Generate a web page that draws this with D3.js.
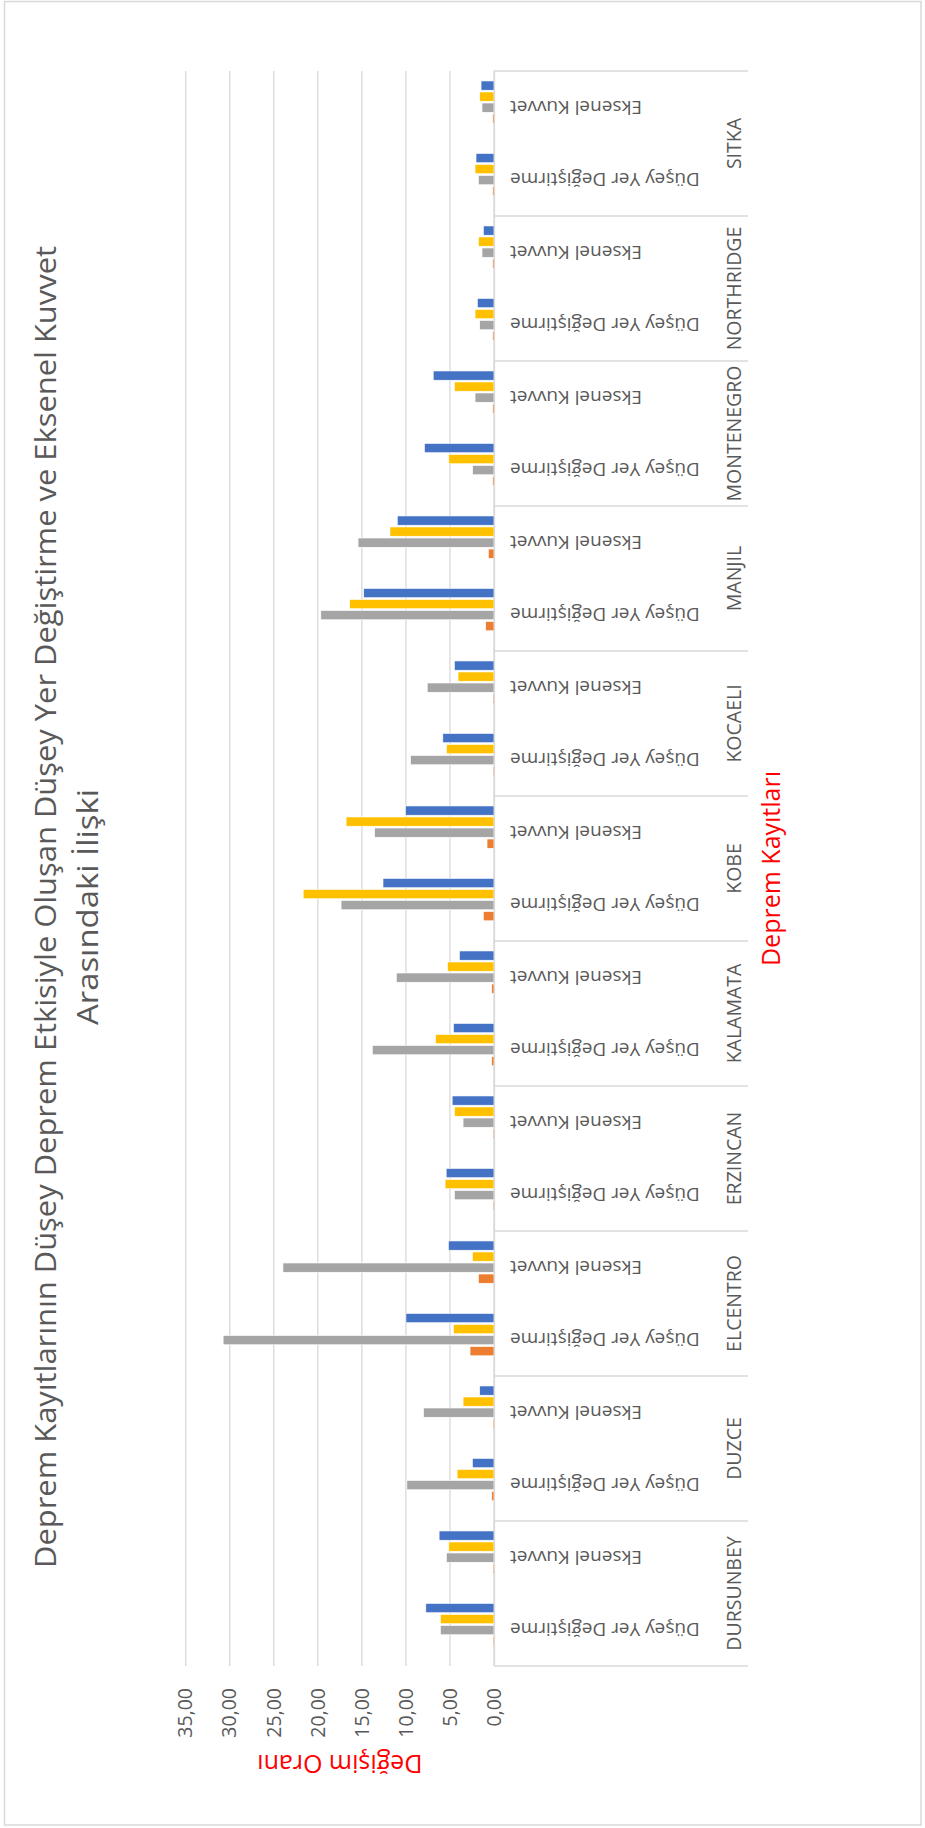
<!DOCTYPE html>
<html lang="tr">
<head>
<meta charset="utf-8">
<title>Deprem Kayıtları</title>
<script src="https://cdn.jsdelivr.net/npm/d3@7"></script>
<style>
  html, body { margin: 0; padding: 0; background: #ffffff; }
  svg { display: block; font-family: "Open Sans", "Noto Sans", sans-serif; }
</style>
</head>
<body>
<svg id="chart" width="925" height="1828"></svg>
<script>
// Earthquake records (outer level) and the two measured quantities (inner level)
const groups = ["DURSUNBEY", "DUZCE", "ELCENTRO", "ERZINCAN", "KALAMATA", "KOBE",
                "KOCAELI", "MANJIL", "MONTENEGRO", "NORTHRIDGE", "SITKA"];
const subCategories = ["Düşey Yer Değiştirme", "Eksenel Kuvvet"];

// One value per (record, quantity) pair, record by record
const valuesOrange = [0.11, 0.11, 0.26, 0.11, 2.72, 1.77, 0.11, 0.11, 0.26, 0.26, 1.21,
                      0.79, 0.11, 0.11, 0.94, 0.64, 0.15, 0.15, 0.15, 0.15, 0.15, 0.15];
const valuesGray   = [6.08, 5.40, 9.89, 8.00, 30.75, 23.96, 4.49, 3.51, 13.81, 11.09, 17.36,
                      13.55, 9.47, 7.58, 19.66, 15.43, 2.42, 2.15, 1.62, 1.36, 1.77, 1.36];
const valuesYellow = [6.08, 5.13, 4.19, 3.51, 4.60, 2.45, 5.55, 4.49, 6.64, 5.28, 21.66,
                      16.79, 5.40, 4.08, 16.38, 11.81, 5.13, 4.49, 2.15, 1.77, 2.15, 1.62];
const valuesBlue   = [7.74, 6.23, 2.45, 1.62, 10.00, 5.17, 5.43, 4.75, 4.60, 3.92, 12.60,
                      10.04, 5.81, 4.49, 14.79, 10.98, 7.89, 6.90, 1.89, 1.21, 2.04, 1.47];

const valueTicks = [0, 5, 10, 15, 20, 25, 30, 35];

const titleLines = ["Deprem Kayıtlarının Düşey Deprem Etkisiyle Oluşan Düşey Yer Değiştirme ve Eksenel Kuvvet",
                    "Arasındaki İlişki"];
const valueAxisTitle = "Değişim Oranı";
const categoryAxisTitle = "Deprem Kayıtları";

// ---- build rows for the bar layer ----
const seriesList = [
  { key: "orange", color: "#ED7D31", values: valuesOrange },
  { key: "gray",   color: "#A5A5A5", values: valuesGray },
  { key: "yellow", color: "#FFC000", values: valuesYellow },
  { key: "blue",   color: "#4472C4", values: valuesBlue }
];
const rows = [];
groups.forEach((g, gi) => {
  subCategories.forEach((s, si) => {
    const idx = gi * subCategories.length + si;
    seriesList.forEach(ser => rows.push({ group: g, sub: s, key: ser.key, color: ser.color, value: ser.values[idx] }));
  });
});

// ---- layout (chart is laid out as a column chart, then turned a quarter turn) ----
const W = 925, H = 1828;           // page size
const CW = H, CH = W;              // the chart's own width / height before turning
const plot = { left: 162, right: 1757, base: 494, top: 185.7 };
const gridColor = "#d9d9d9";
const textColor = "#595959";

const svg = d3.select("#chart");
svg.append("rect").attr("width", W).attr("height", H).attr("fill", "#ffffff");
svg.append("rect")
  .attr("x", 4.5).attr("y", 1.5).attr("width", 916.5).attr("height", 1823.5)
  .attr("fill", "none").attr("stroke", gridColor).attr("stroke-width", 1.5);

const root = svg.append("g").attr("transform", `translate(0,${H}) rotate(-90)`);

// scales
const x0 = d3.scaleBand().domain(groups).range([plot.left, plot.right]);
const xSub = d3.scaleBand().domain(subCategories).range([0, x0.bandwidth()]);
const x1 = d3.scaleBand().domain(seriesList.map(s => s.key))
  .range([0, xSub.bandwidth()])
  .paddingInner(0.16).paddingOuter(1.37).align(0.67);
const innerKeys = [];
groups.forEach(g => subCategories.forEach(s => innerKeys.push(g + "|" + s)));
const xInner = d3.scaleBand().domain(innerKeys).range([plot.left, plot.right]);
const y = d3.scaleLinear().domain([0, 35]).range([plot.base, plot.top]);

// gridlines
root.append("g").selectAll("line").data(valueTicks).join("line")
  .attr("x1", plot.left).attr("x2", plot.right)
  .attr("y1", d => y(d)).attr("y2", d => y(d))
  .attr("stroke", gridColor).attr("stroke-width", 1.3);

// value axis
const trLocale = d3.formatLocale({ decimal: ",", thousands: ".", grouping: [3], currency: ["", " ₺"] });
const fmt = trLocale.format(".2f");
const yAxis = root.append("g")
  .attr("transform", `translate(${plot.left},0)`)
  .call(d3.axisLeft(y).tickValues(valueTicks).tickFormat(fmt).tickSize(0).tickPadding(22));
yAxis.select(".domain").remove();
yAxis.selectAll("text")
  .attr("fill", textColor).attr("font-size", 19.5)
  .attr("font-family", "'Open Sans', sans-serif");

// bars
root.append("g").selectAll("rect").data(rows).join("rect")
  .attr("x", d => x0(d.group) + xSub(d.sub) + x1(d.key))
  .attr("width", x1.bandwidth())
  .attr("y", d => y(d.value))
  .attr("height", d => y(0) - y(d.value))
  .attr("fill", d => d.color)
  .attr("stroke", "#ffffff").attr("stroke-width", 0.6);

// category axis: line, group separators, inner and outer labels
const catAxis = root.append("g")
  .attr("transform", `translate(0,${plot.base})`)
  .call(d3.axisBottom(xInner).tickSize(0).tickPadding(0).tickFormat(k => k.split("|")[1]));
catAxis.select(".domain").attr("stroke", gridColor).attr("stroke-width", 1.3);
catAxis.selectAll("text")
  .attr("transform", "rotate(-90)")
  .attr("text-anchor", "end")
  .attr("x", -16).attr("y", 0).attr("dy", "0.35em")
  .attr("fill", textColor).attr("font-size", 19)
  .attr("font-family", "'Open Sans', sans-serif");

const boundaries = [plot.left].concat(groups.map(g => x0(g) + x0.bandwidth()));
root.append("g").selectAll("line").data(boundaries).join("line")
  .attr("x1", d => d).attr("x2", d => d)
  .attr("y1", plot.base).attr("y2", 748)
  .attr("stroke", gridColor).attr("stroke-width", 1.3);

const outerAxis = root.append("g")
  .attr("transform", `translate(0,${plot.base})`)
  .call(d3.axisBottom(x0).tickSize(0).tickPadding(233));
outerAxis.select(".domain").remove();
outerAxis.selectAll("text")
  .attr("fill", textColor).attr("font-size", 19.5)
  .attr("font-family", "'Open Sans', sans-serif");

// axis titles
root.append("text")
  .attr("transform", `translate(73,${(y(0) + y(35)) / 2}) rotate(-90)`)
  .attr("text-anchor", "middle")
  .attr("fill", "#FF0000").attr("font-size", 25)
  .text(valueAxisTitle);

root.append("text")
  .attr("x", (plot.left + plot.right) / 2).attr("y", 780)
  .attr("text-anchor", "middle")
  .attr("fill", "#FF0000").attr("font-size", 25)
  .text(categoryAxisTitle);

// chart title
const titleWidths = [1322, 236];
const titleBaselines = [56, 98];
root.append("g").selectAll("text").data(titleLines).join("text")
  .attr("x", 921).attr("y", (d, i) => titleBaselines[i])
  .attr("text-anchor", "middle")
  .attr("textLength", (d, i) => titleWidths[i])
  .attr("lengthAdjust", "spacingAndGlyphs")
  .attr("fill", textColor).attr("font-size", 30)
  .text(d => d);
</script>
</body>
</html>
